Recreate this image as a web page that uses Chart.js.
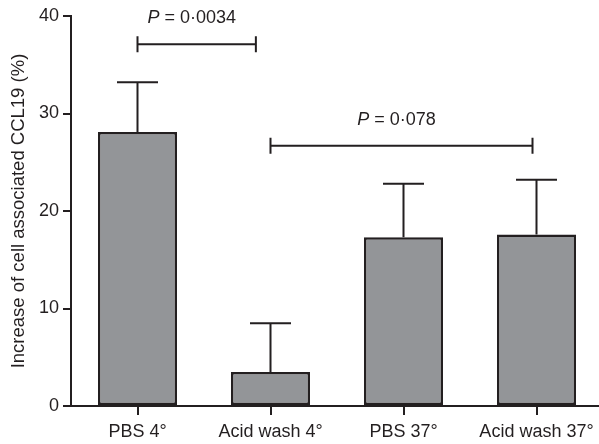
<!DOCTYPE html>
<html>
<head>
<meta charset="utf-8">
<script src="https://cdn.jsdelivr.net/npm/chart.js@4"></script>
<style>
  html, body { margin: 0; padding: 0; background: #fff; overflow: hidden; }
  #wrap { width: 603px; height: 444px; }
</style>
</head>
<body>
<div id="wrap"><canvas id="c" width="603" height="444"></canvas></div>
<script>
// ---- data ----
const categories = ['PBS 4°', 'Acid wash 4°', 'PBS 37°', 'Acid wash 37°'];
const means = [28.1, 3.5, 17.3, 17.6];
const errors = [5.1, 5.0, 5.5, 5.6];
const yTicks = [0, 10, 20, 30, 40];
const yTitle = 'Increase of cell associated CCL19 (%)';
// significance brackets (category index units, value units)
const bracketFrom = [0, 1];
const bracketTo = [0.89, 2.97];
const bracketLevel = [37.1, 26.7];
const pValues = ['0·0034', '0·078'];

// ---- styles ----
const INK = '#231f20';
const BAR = '#939598';
const FONT = '"Liberation Sans", Arial, Helvetica, sans-serif';

const annotations = {
  id: 'annotations',
  afterDatasetsDraw(chart) {
    const ctx = chart.ctx;
    const xs = chart.scales.x, ys = chart.scales.y;
    const meta = chart.getDatasetMeta(0);
    ctx.save();
    ctx.strokeStyle = INK;
    ctx.lineWidth = 2;
    ctx.lineCap = 'butt';
    // error bars (upper only)
    meta.data.forEach((bar, i) => {
      const cx = bar.x;
      const top = ys.getPixelForValue(means[i]);
      const hi = ys.getPixelForValue(means[i] + errors[i]);
      ctx.beginPath();
      ctx.moveTo(cx, top);
      ctx.lineTo(cx, hi);
      ctx.moveTo(cx - 20.5, hi);
      ctx.lineTo(cx + 20.5, hi);
      ctx.stroke();
    });
    // brackets
    bracketFrom.forEach((f, i) => {
      const x1 = xs.getPixelForValue(f);
      const x2 = xs.getPixelForValue(bracketTo[i]);
      const yy = ys.getPixelForValue(bracketLevel[i]);
      ctx.beginPath();
      ctx.moveTo(x1, yy); ctx.lineTo(x2, yy);
      ctx.moveTo(x1, yy - 8); ctx.lineTo(x1, yy + 8);
      ctx.moveTo(x2, yy - 8); ctx.lineTo(x2, yy + 8);
      ctx.stroke();
      // label: italic P + rest
      const italic = 'italic 18px ' + FONT;
      const normal = '18px ' + FONT;
      const rest = ' = ' + pValues[i];
      ctx.font = italic;
      const wP = ctx.measureText('P').width;
      ctx.font = normal;
      const wR = ctx.measureText(rest).width;
      const cx = (x1 + x2) / 2 - 5;
      const ty = yy - 26;
      let sx = cx - (wP + wR) / 2;
      ctx.fillStyle = INK;
      ctx.textBaseline = 'middle';
      ctx.textAlign = 'left';
      ctx.font = italic;
      ctx.fillText('P', sx, ty);
      ctx.font = normal;
      ctx.fillText(rest, sx + wP, ty);
    });
    ctx.restore();
  }
};

new Chart(document.getElementById('c'), {
  type: 'bar',
  data: {
    labels: categories,
    datasets: [{
      data: means,
      backgroundColor: BAR,
      borderColor: INK,
      borderWidth: 2.5,
      borderSkipped: false,
      barPercentage: 0.594,
      categoryPercentage: 1.0
    }]
  },
  options: {
    responsive: false,
    devicePixelRatio: 1,
    animation: false,
    layout: { padding: { top: 16, right: 0, bottom: 0, left: 0 } },
    plugins: { legend: { display: false }, tooltip: { enabled: false } },
    scales: {
      x: {
        offset: true,
        afterFit(s) { s.height = 38; },
        border: { display: true, color: INK, width: 2 },
        grid: { display: true, offset: false, drawOnChartArea: false, drawTicks: true, tickLength: 9, color: INK, lineWidth: 2 },
        ticks: { color: INK, font: { family: FONT, size: 18 }, padding: 6, maxRotation: 0, autoSkip: false }
      },
      y: {
        min: 0, max: 40,
        afterFit(s) { s.width = 71; },
        afterBuildTicks(s) { s.ticks = yTicks.map(v => ({ value: v })); },
        border: { display: true, color: INK, width: 2 },
        grid: { display: true, drawOnChartArea: false, drawTicks: true, tickLength: 8, color: INK, lineWidth: 2 },
        ticks: { color: INK, font: { family: FONT, size: 18 }, padding: 4 },
        title: { display: true, text: yTitle, color: INK, font: { family: FONT, size: 18.5 }, padding: { top: 7.5, bottom: 0 } }
      }
    }
  },
  plugins: [annotations]
});
</script>
</body>
</html>
